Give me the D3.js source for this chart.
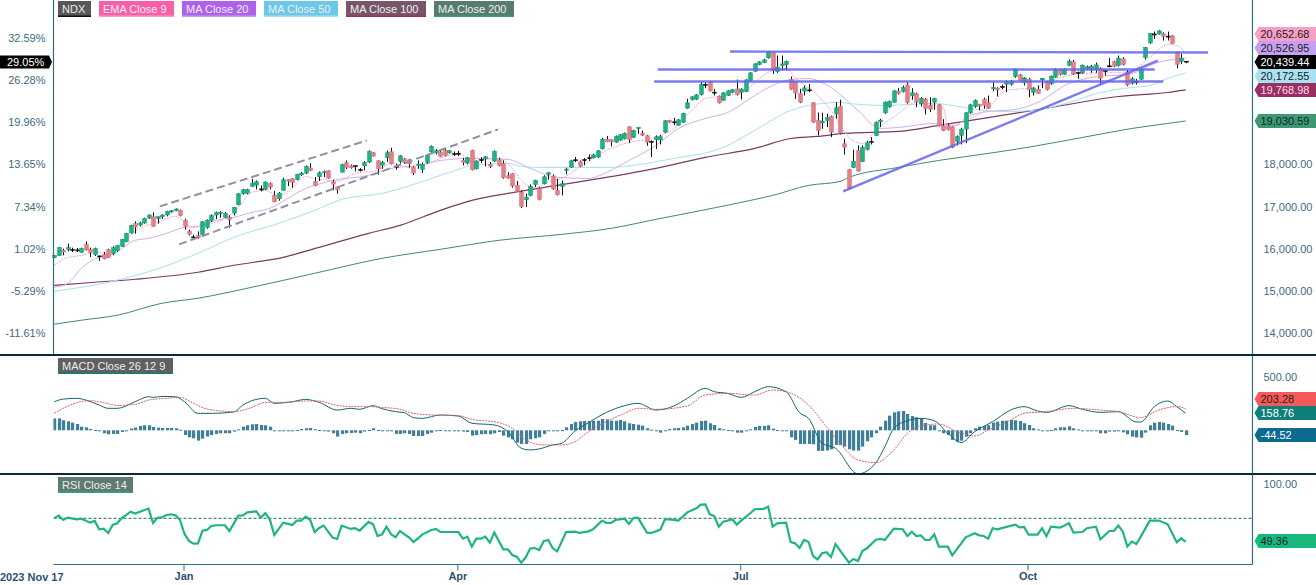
<!DOCTYPE html>
<html lang="en">
<head>
<meta charset="utf-8" />
<title>NDX</title>
<style>
  html, body { margin: 0; padding: 0; background: #fff; }
  svg { display: block; }
  text { font-family: "Liberation Sans", Arial, sans-serif; font-size: 11px; }
  .axis text { fill: #3d6a80; }
  .axis .domain, .axis line { stroke: #2f6f7f; }
  .dates text { font-weight: bold; fill: #2b5274; font-size: 11px; }
</style>
<script src="https://cdn.jsdelivr.net/npm/d3@7"></script>
</head>
<body>
<div id="chart"></div>
<script>
// candles, one entry per trading day
var barOpen = [15790,15835,15962,15978,15975,15972,15915,16104,15986,15860,
  15830,15860,15978,15883,15954,16057,16167,16373,16594,16562,
  16610,16728,16760,16712,16760,16800,16870,16902,16902,16673,
  16412,16280,16310,16333,16507,16673,16800,16839,16744,16736,
  16847,17044,17305,17320,17479,17510,17415,17408,17550,17265,
  17186,17384,17637,17660,17645,17755,17795,17913,17597,17708,
  17803,17850,17582,17463,17818,18040,17969,17965,17875,17969,
  18056,18277,18087,17984,18158,18300,17955,18071,18134,18111,
  17937,17992,17882,18048,18300,18277,18293,18332,18277,18255,
  18265,18095,18032,18332,17897,18115,18134,18000,18079,18111,
  18016,17732,17779,17503,17345,17163,17265,17526,17424,17542,
  17763,17724,17384,17479,17858,17937,18108,18063,18110,18158,
  18158,18174,18371,18592,18585,18529,18577,18609,18893,18640,
  18853,18735,18680,18547,18585,18585,18766,19043,19012,18932,
  19003,19335,19541,19549,19659,19900,19959,19715,19620,19525,
  19643,19715,19793,19715,19730,19991,20212,20370,20418,20528,
  20655,20204,20346,20370,20015,19951,19683,19738,19770,19462,
  19043,18988,19043,19138,19201,19375,18490,17874,17929,18332,
  18071,18356,18545,18688,19012,19225,19367,19478,19730,19730,
  19888,19628,19675,19438,19549,19406,19478,19414,18917,18917,
  18885,18545,18688,18838,19225,19375,19422,19541,19462,19793,
  19801,19850,19904,19904,20086,20125,19936,20023,19714,19778,
  20007,19951,19912,20070,20236,20141,20354,20433,20180,20173,
  20275,20260,20267,20283,20228,20340,20441,20346,20504,20188,
  19928,19975,20023,20536,20884,21095,21097,21097,21045,21050,
  20655,20449,20450];
var barHigh = [15850,16040,16001,16120,16025,16017,16025,16175,16025,16025,
  15832,15922,16002,16057,16088,16230,16373,16570,16650,16642,
  16736,16815,16863,16762,16815,16902,16918,16957,16926,16712,
  16452,16333,16412,16657,16697,16815,16878,16894,16870,16791,
  16989,17320,17423,17423,17660,17621,17503,17597,17574,17368,
  17345,17684,17645,17676,17779,17818,17977,18032,17700,17834,
  17858,17858,17637,17479,18016,18095,18000,17972,17913,18079,
  18332,18292,18095,18079,18332,18395,18016,18221,18158,18134,
  17961,18095,18048,18237,18450,18364,18332,18372,18340,18308,
  18320,18158,18174,18348,18095,18174,18200,18056,18332,18158,
  18095,17818,17795,17605,17384,17305,17526,17637,17463,17740,
  17818,17763,17660,17621,17921,18111,18174,18095,18150,18237,
  18253,18340,18632,18672,18600,18688,18719,18759,18901,18822,
  18880,18806,18703,18569,18688,18703,19051,19059,19106,19075,
  19225,19556,19620,19667,19951,19951,19975,19793,19635,19715,
  19762,19785,20015,19809,20023,20188,20402,20449,20505,20686,
  20670,20583,20583,20465,20086,19975,19793,19872,19912,19478,
  19233,19225,19201,19162,19478,19533,18609,17897,18348,18450,
  18450,18553,18648,19020,19083,19493,19517,19762,19809,19872,
  19944,19809,19707,19596,19580,19596,19580,19438,19075,18964,
  18901,18688,18869,19240,19438,19541,19438,19580,19635,19951,
  19833,19896,19991,20007,20275,20149,20070,20054,19833,19872,
  20054,19975,20109,20283,20267,20283,20489,20481,20204,20370,
  20346,20362,20418,20307,20252,20528,20465,20583,20544,20244,
  20070,20030,20283,20789,21121,21152,21184,21136,21152,21065,
  20678,20623,20452];
var barLow = [15775,15830,15843,15938,15922,15922,15899,15962,15804,15828,
  15710,15749,15780,15843,15922,16041,16152,16357,16357,16530,
  16594,16705,16523,16594,16712,16768,16855,16886,16768,16452,
  16318,16238,16238,16318,16476,16634,16705,16736,16728,16500,
  16791,17028,17281,17289,17463,17408,17360,17392,17408,17100,
  17139,17384,17487,17447,17621,17724,17771,17842,17479,17605,
  17700,17660,17384,17305,17803,17890,17897,17834,17834,17858,
  18032,18190,17755,17897,18056,18000,17874,18016,18016,17921,
  17747,17897,17795,18016,18277,18237,18174,18190,18253,18198,
  18198,17977,18000,17858,17882,18032,17953,17913,18056,17953,
  17660,17660,17447,17345,16965,16989,17242,17463,17147,17526,
  17637,17400,17265,17265,17763,17921,18056,17937,17977,18079,
  18142,18158,18355,18529,18427,18514,18561,18593,18506,18624,
  18727,18672,18443,18174,18364,18474,18743,18980,18932,18917,
  18988,19320,19517,19533,19635,19809,19730,19635,19446,19509,
  19628,19691,19635,19541,19715,19975,20196,20354,20402,20512,
  20149,20173,20228,20228,19770,19556,19454,19635,19715,18988,
  18688,18845,18885,18648,19083,18711,18237,17408,17913,17834,
  18055,18332,18474,18672,18885,19201,19343,19462,19659,19707,
  19438,19533,19359,19375,19185,19240,19296,18901,18790,18806,
  18387,18450,18474,18506,19201,19343,19280,19319,19319,19738,
  19612,19778,19714,19872,20054,19967,19872,19596,19635,19675,
  19809,19754,19888,20054,20109,20125,20331,20125,20030,20149,
  20244,20173,20173,19896,20109,20307,20307,20323,20346,19857,
  19896,19896,20007,20489,20860,20978,21081,20939,20939,20860,
  20283,20386,20402];
var barClose = [15838,16025,15922,16025,15980,15970,16002,15970,15907,16002,
  15828,15765,15796,16025,16072,16215,16357,16555,16515,16610,
  16720,16800,16530,16760,16800,16886,16902,16942,16784,16530,
  16349,16276,16262,16641,16673,16791,16855,16863,16839,16689,
  16981,17305,17400,17400,17550,17590,17420,17582,17463,17115,
  17320,17637,17605,17566,17763,17795,17953,17858,17503,17803,
  17826,17676,17534,17400,18000,17929,17921,17970,17874,18048,
  18308,18198,17897,18048,18277,18016,17952,18206,18048,18016,
  17795,18008,18000,18221,18427,18332,18190,18214,18324,18253,
  18262,18048,18158,17874,18079,18105,18182,17953,18308,17977,
  17684,17676,17487,17360,17005,17218,17479,17621,17171,17708,
  17803,17416,17281,17542,17890,18087,18111,17961,18115,18160,
  18229,18324,18592,18537,18545,18664,18703,18735,18585,18806,
  18877,18695,18530,18545,18656,18656,19035,19003,19010,19059,
  19209,19462,19604,19651,19904,19896,19746,19712,19462,19699,
  19746,19770,19659,19785,20007,20173,20386,20433,20481,20670,
  20228,20307,20386,20441,19786,19691,19478,19817,19768,19003,
  18806,19027,19114,18766,19343,18743,18411,17439,18071,17842,
  18403,18514,18547,18996,19051,19478,19493,19746,19683,19825,
  19470,19699,19485,19564,19327,19312,19564,18917,18806,18830,
  18411,18664,18838,19225,19414,19517,19383,19406,19335,19825,
  19770,19849,19959,19967,20260,19991,20054,19770,19801,19691,
  20039,19778,20094,20260,20141,20260,20449,20149,20181,20354,
  20315,20331,20362,20046,20227,20338,20331,20520,20370,19888,
  20030,19973,20252,20773,21105,21097,21168,21042,21042,20876,
  20378,20520,20439.44];

// moving averages, read at the bars where the line bends
var ema9Bars = [0,2,6,10,12,15,19,23,27,28,31,33,38,41,44,47,50,53,56,58,61,63,67,72,75,80,86,90,93,99,102,104,107,111,113,117,123,128,133,138,142,145,150,154,156,160,163,165,168,169,171,173,177,180,183,188,192,198,199,203,208,212,218,222,229,237,240,244,248,250,252];
var ema9Values = [15607,15749,15844,15915,15891,16128,16483,16626,16768,16720,16507,16555,16720,16981,17337,17384,17265,17431,17716,17668,17621,17597,17787,17858,18024,17905,18142,18261,18095,18142,17905,17621,17455,17621,17668,17929,18332,18522,18616,18853,19280,19564,19635,19754,19944,20228,20275,20062,19825,19754,19517,19280,18640,18498,18806,19209,19470,19351,18877,19043,19327,19754,19825,19991,20157,20181,20228,20536,20844,20820,20652.68];
var ma20Bars = [0,3,6,10,13,18,21,25,29,32,36,40,44,48,52,56,58,62,70,75,81,86,93,101,106,112,119,123,128,134,139,145,150,156,160,164,168,171,173,179,184,188,196,201,203,208,214,219,226,231,240,245,252];
var ma20Values = [15085,15180,15535,15796,15867,16199,16246,16365,16507,16531,16673,16744,16863,16957,17194,17431,17502,17621,17740,17905,17976,18095,18142,18119,17905,17692,17668,17811,18095,18450,18853,19090,19233,19635,19872,20015,20038,19944,19825,19280,18853,18877,18972,18925,19114,19256,19304,19470,19920,20062,20157,20394,20526.95];
var ma50Bars = [0,12,24,32,40,50,58,64,73,86,90,93,101,104,108,123,138,149,156,164,168,175,177,185,196,204,211,218,226,233,240,244,248,252];
var ma50Values = [14990,15204,15559,15891,16270,16602,16910,17171,17313,17740,17882,17976,18024,17953,17929,17929,18142,18403,18806,19280,19399,19470,19446,19399,19446,19327,19256,19280,19470,19707,19825,19872,20038,20172.55];
var ma100Bars = [0,9,18,32,40,51,59,70,77,86,93,101,112,123,134,145,156,164,170,176,188,197,211,222,237,248,252];
var ma100Values = [15132,15204,15275,15441,15607,15796,16033,16365,16555,16910,17147,17313,17502,17692,17905,18166,18379,18616,18664,18735,18782,18925,19162,19351,19612,19707,19768.98];
var ma200Bars = [0,6,14,24,32,44,58,73,86,99,113,124,134,142,153,160,168,175,177,188,197,208,218,229,240,248,252];
var ma200Values = [14208,14303,14421,14706,14825,15085,15417,15772,15986,16199,16341,16483,16697,16863,17100,17265,17502,17597,17692,17929,18095,18261,18427,18640,18853,18972,19030.59];

// hand drawn lines: start bar, end bar, start price, end price
var solidLineStartBars = [150.5,134.4,133.6,175.7];
var solidLineEndBars = [257,245.1,247,245.8];
var solidLineStartPrices = [20678,20252,19967,17360];
var solidLineEndPrices = [20655,20252,19967,20465];
var dashedLineStartBars = [23.5,27.8];
var dashedLineEndBars = [69.6,98.8];
var dashedLineStartPrices = [17005,16104];
var dashedLineEndPrices = [18569,18830];

// MACD
var macdHist = [112,112,94,84,72,59,34,28,12,3,
  -6,-28,-37,-34,-34,-16,-6,16,25,41,
  47,47,31,25,22,22,22,19,6,-44,
  -66,-75,-97,-78,-59,-44,-34,-28,-28,-28,
  -12,9,34,47,56,59,50,47,34,-6,
  -9,-6,-3,0,3,12,19,22,9,3,
  0,-12,-28,-59,-34,-28,-25,-22,-28,-12,
  3,19,3,-9,-3,-6,-34,-34,-28,-34,
  -53,-53,-53,-34,-22,-6,3,-6,-6,-9,
  -6,-12,-16,-50,-44,-37,-34,-37,-28,-16,
  -50,-66,-84,-115,-128,-128,-84,-75,-66,-34,
  0,0,-6,3,28,59,78,84,87,87,
  90,90,106,103,90,90,97,84,66,59,
  53,44,19,6,0,-22,0,12,19,22,
  28,44,59,72,87,90,66,50,19,9,
  3,0,-22,-22,-6,9,31,41,41,47,
  16,3,-6,-6,-66,-90,-128,-128,-128,-131,
  -193,-193,-190,-178,-137,-137,-153,-178,-190,-190,
  -153,-103,-66,-28,34,90,137,168,178,181,
  153,134,122,112,69,47,47,0,-28,-44,
  -90,-106,-97,-59,-28,19,34,41,47,72,
  81,90,90,97,94,87,66,50,19,9,
  -6,-6,3,19,28,28,37,19,9,0,
  0,-6,-6,-28,-28,-12,-12,0,-19,-37,
  -59,-66,-69,-22,47,72,78,72,59,44,
  3,-16,-44.52];
var macdBars = [0,2,5,7,10,12,14,18,21,22,24,27,29,32,35,40,42,44,47,49,53,56,59,63,66,68,71,73,76,78,80,82,86,90,93,98,101,104,106,108,111,113,116,119,123,127,130,134,138,141,145,147,150,153,156,159,163,166,168,171,174,179,183,185,187,190,193,196,199,202,205,209,213,216,219,221,226,229,233,237,241,242,245,248,250,252];
var macdValues = [268,293,300,284,237,206,206,268,315,309,318,315,268,159,159,172,237,278,300,253,268,290,262,190,206,197,231,203,175,165,119,112,144,134,66,50,-12,-168,-184,-175,-137,-122,-6,72,168,231,253,190,228,300,393,362,346,309,362,409,362,165,112,-122,-168,-409,-303,-153,19,90,112,90,-28,-115,-12,81,190,222,181,168,231,197,168,175,78,78,222,275,222,158.76];
var signalBars = [0,2,5,8,11,14,18,21,25,28,31,34,40,44,47,51,56,59,62,66,70,73,77,80,86,90,93,99,102,105,109,113,116,119,123,127,130,134,141,145,150,156,160,163,168,172,175,179,183,187,190,193,197,201,205,208,213,216,221,227,233,237,242,246,250,252];
var signalValues = [159,206,259,278,259,234,243,284,300,309,253,200,175,215,262,262,275,275,243,222,222,215,197,159,140,137,103,72,19,-90,-137,-137,-106,-12,81,159,206,197,228,331,346,331,378,362,237,34,-122,-278,-303,-184,-28,41,59,-12,-53,3,97,159,175,206,190,175,119,190,222,203.28];

// RSI
var rsiBars = [0,1,2,3,5,6,8,9,10,11,12,13,14,15,17,18,21,22,23,24,25,26,27,28,29,30,31,32,33,34,35,36,38,39,40,41,42,43,45,46,47,48,49,51,53,54,55,56,57,58,59,60,62,63,64,65,66,67,68,70,71,72,73,74,75,76,77,78,79,80,81,82,84,85,86,88,90,91,92,93,94,95,96,97,98,100,101,102,103,104,105,106,107,108,109,110,111,112,114,116,117,119,120,122,123,124,125,127,128,129,130,132,133,135,136,137,139,141,143,144,145,146,147,148,149,151,152,153,155,156,158,159,160,161,163,164,165,166,167,168,169,170,171,172,173,174,177,178,179,180,181,183,184,185,187,189,190,191,192,193,194,195,196,197,199,200,203,205,206,207,208,209,210,214,215,216,217,219,220,221,222,224,226,227,229,230,232,233,235,236,237,238,239,240,241,242,244,246,248,250,251,252];
var rsiValues = [70,72.3,68.5,70.6,69.1,69.7,66.2,67.7,60.4,61,57.2,64.2,65.6,70,75.8,74.1,78.5,65.9,70.6,70.9,72.9,73.5,72.6,68.5,56.3,50.2,47.8,48.1,59.2,59.8,63.3,63.9,63.9,58.9,65.6,72.3,72.6,75.2,76.1,70.6,74.4,69.1,55.4,66.2,64.2,68,68,71.5,68.5,58,61.5,63.6,53.1,51.9,63.6,62.1,60.7,61.3,59.2,66.8,64.8,54.5,56,62.7,56,53.4,58.9,56,53.4,49.3,52.5,56,59.8,60.7,58,58,58,52.2,54,45.2,52.2,52.2,54,48.7,57.5,42.9,42.9,37.9,36.5,31.2,35.9,43.5,44,42.3,49.9,51,44,41.1,58,58.3,57.2,58.6,60.4,68,65.9,65.9,68.5,69.7,65,70.3,70.6,57.5,57.2,60.1,69.1,69.1,68,75.2,78.7,82,82.2,73.5,72,62.7,67.1,69.1,64.5,68,74.4,77.9,78.2,80.2,62.7,65.6,66.2,49.3,48.1,44,51,49.3,37,34.1,39.4,40.3,36.2,47.5,31.2,34.4,32.7,41.4,43.8,51.3,51.9,51,61,60.4,54.5,58.3,54.5,55.1,51,51,56,45.2,45.2,37.6,53.4,56.9,55.1,54.5,52.2,61.3,60.4,64.5,62.1,62.4,55.7,55.7,61.3,54.5,62.7,61.8,65.6,57.5,58,61.3,62.7,51.6,58.9,58.9,63.6,58.3,45.2,49.6,47.5,54,68,68,64.8,49,52.5,49.36];

// axes
var priceTicks = [14000,15000,16000,17000,18000];
var percentTicks = [21000,20000,19000,18000,17000,16000,15000,14000];
var percentLabels = ["32.59%","26.28%","19.96%","13.65%","7.34%","1.02%","-5.29%","-11.61%"];
var macdTicks = [500];
var rsiTicks = [100];
var rsiLevel = [70];
var dateBars = [29,90,153,217];
var dateLabels = ["Jan","Apr","Jul","Oct"];

var W = 1316, H = 585;
var plotL = 53.5, plotR = 1252.5;
var mainBottom = 355, macdBottom = 474, rsiBottom = 564.5;

var x = d3.scaleLinear().domain([0, 252]).range([54.3, 1185.7]);
var y = d3.scaleLinear().domain([14000, 21000]).range([333, 38]);
var yMacd = d3.scaleLinear().domain([0, 500]).range([430.3, 377]);
var yRsi = d3.scaleLinear().domain([70, 100]).range([518.3, 484]);

var svg = d3.select("#chart").append("svg").attr("width", W).attr("height", H);

var defs = svg.append("defs");
defs.append("clipPath").attr("id", "clipMacd").append("rect")
  .attr("x", plotL).attr("y", mainBottom).attr("width", plotR - plotL).attr("height", macdBottom - mainBottom);
defs.append("clipPath").attr("id", "clipRsi").append("rect")
  .attr("x", plotL).attr("y", macdBottom).attr("width", plotR - plotL).attr("height", rsiBottom - macdBottom);

function pairs(bars, values) {
  return bars.map(function(b, i) { return [b, values[i]]; });
}

function drawLine(g, bars, values, yScale, colour, width, curve) {
  var line = d3.line()
    .x(function(d) { return x(d[0]); })
    .y(function(d) { return yScale(d[1]); })
    .curve(curve || d3.curveLinear);
  return g.append("path")
    .datum(pairs(bars, values))
    .attr("fill", "none")
    .attr("stroke", colour)
    .attr("stroke-width", width)
    .attr("d", line);
}

// moving averages go under the candles
var mas = svg.append("g");
drawLine(mas, ma200Bars, ma200Values, y, "#3f8a6d", 1, d3.curveMonotoneX);
drawLine(mas, ma100Bars, ma100Values, y, "#7a3a62", 1.2, d3.curveMonotoneX);
drawLine(mas, ma50Bars, ma50Values, y, "#a9dfe9", 1, d3.curveMonotoneX);
drawLine(mas, ma20Bars, ma20Values, y, "#d3aee4", 1, d3.curveMonotoneX);
drawLine(mas, ema9Bars, ema9Values, y, "#f0a6d4", 1, d3.curveMonotoneX).attr("stroke-dasharray", "2,1");

var candles = svg.append("g").selectAll("g").data(barOpen).enter().append("g");
candles.append("line")
  .attr("x1", function(d, i) { return Math.round(x(i)) + 0.5; })
  .attr("x2", function(d, i) { return Math.round(x(i)) + 0.5; })
  .attr("y1", function(d, i) { return y(barHigh[i]); })
  .attr("y2", function(d, i) { return y(barLow[i]); })
  .attr("stroke", "#111")
  .attr("stroke-width", 1);
candles.append("rect")
  .attr("x", function(d, i) { return Math.round(x(i)) - 1.3; })
  .attr("width", 3.6)
  .attr("y", function(d, i) { return Math.min(y(barOpen[i]), y(barClose[i])); })
  .attr("height", function(d, i) { return Math.max(1, Math.abs(y(barOpen[i]) - y(barClose[i]))); })
  .attr("fill", function(d, i) {
    var diff = barClose[i] - barOpen[i];
    if (Math.abs(diff) <= 12) return "#111";
    return diff > 0 ? "#1db385" : "#e57f88";
  })
  .attr("stroke", function(d, i) {
    var diff = barClose[i] - barOpen[i];
    if (Math.abs(diff) <= 12) return "#111";
    return diff > 0 ? "#17936e" : "#d0707a";
  })
  .attr("stroke-width", 0.6);

// drawn lines sit on top of the candles
var drawn = svg.append("g");
solidLineStartBars.forEach(function(b, i) {
  drawn.append("line")
    .attr("x1", x(b)).attr("x2", x(solidLineEndBars[i]))
    .attr("y1", y(solidLineStartPrices[i])).attr("y2", y(solidLineEndPrices[i]))
    .attr("stroke", "#6464ec").attr("stroke-width", 2.4).attr("stroke-opacity", 0.85);
});
dashedLineStartBars.forEach(function(b, i) {
  drawn.append("line")
    .attr("x1", x(b)).attr("x2", x(dashedLineEndBars[i]))
    .attr("y1", y(dashedLineStartPrices[i])).attr("y2", y(dashedLineEndPrices[i]))
    .attr("stroke", "#9090a4").attr("stroke-width", 2).attr("stroke-dasharray", "8,4");
});

// MACD panel
var macdG = svg.append("g").attr("clip-path", "url(#clipMacd)");
macdG.selectAll("rect").data(macdHist).enter().append("rect")
  .attr("x", function(d, i) { return Math.round(x(i)) - 1; })
  .attr("width", 3.2)
  .attr("y", function(d) { return Math.min(yMacd(d), yMacd(0)); })
  .attr("height", function(d) { return Math.max(1, Math.abs(yMacd(d) - yMacd(0))); })
  .attr("fill", "#3f7f9a");
drawLine(macdG, macdBars, macdValues, yMacd, "#0f6670", 1, d3.curveMonotoneX);
drawLine(macdG, signalBars, signalValues, yMacd, "#d4606e", 1, d3.curveMonotoneX).attr("stroke-dasharray", "2,1");

// RSI panel
var rsiG = svg.append("g").attr("clip-path", "url(#clipRsi)");
rsiLevel.forEach(function(v) {
  rsiG.append("line")
    .attr("x1", plotL).attr("x2", plotR).attr("y1", yRsi(v)).attr("y2", yRsi(v))
    .attr("stroke", "#176a70").attr("stroke-dasharray", "3,2");
});
drawLine(rsiG, rsiBars, rsiValues, yRsi, "#1fb482", 2.2);

// frame
var frame = svg.append("g").attr("stroke", "#2f6f7f").attr("stroke-width", 1.2);
frame.append("line").attr("x1", plotL).attr("x2", plotL).attr("y1", 0).attr("y2", mainBottom);
frame.append("line").attr("x1", plotR).attr("x2", plotR).attr("y1", 0).attr("y2", rsiBottom);
frame.append("line").attr("x1", plotL).attr("x2", plotR).attr("y1", rsiBottom).attr("y2", rsiBottom);
[mainBottom, macdBottom].forEach(function(v) {
  svg.append("line").attr("x1", 0).attr("x2", W).attr("y1", v).attr("y2", v)
    .attr("stroke", "#0b2a38").attr("stroke-width", 2);
});

// axes
function cleanAxis(g) {
  g.select(".domain").remove();
  g.selectAll(".tick line").remove();
}
svg.append("g").attr("class", "axis")
  .attr("transform", "translate(" + (plotL - 8) + ",0)")
  .call(d3.axisLeft(y).tickValues(percentTicks).tickSize(0).tickPadding(0)
    .tickFormat(function(d, i) { return percentLabels[i]; }))
  .call(cleanAxis);
svg.append("g").attr("class", "axis")
  .attr("transform", "translate(" + (plotR + 11) + ",0)")
  .call(d3.axisRight(y).tickValues(priceTicks).tickSize(0).tickPadding(0).tickFormat(d3.format(",.2f")))
  .call(cleanAxis);
svg.append("g").attr("class", "axis")
  .attr("transform", "translate(" + (plotR + 11) + ",0)")
  .call(d3.axisRight(yMacd).tickValues(macdTicks).tickSize(0).tickPadding(0).tickFormat(d3.format(".2f")))
  .call(cleanAxis);
svg.append("g").attr("class", "axis")
  .attr("transform", "translate(" + (plotR + 11) + ",0)")
  .call(d3.axisRight(yRsi).tickValues(rsiTicks).tickSize(0).tickPadding(0).tickFormat(d3.format(".2f")))
  .call(cleanAxis);

var dates = svg.append("g").attr("class", "dates")
  .attr("transform", "translate(-1," + rsiBottom + ")")
  .call(d3.axisBottom(x).tickValues(dateBars).tickSize(6).tickPadding(2)
    .tickFormat(function(d, i) { return dateLabels[i]; }));
dates.select(".domain").remove();
dates.selectAll(".tick line").attr("stroke", "#2f6f7f");
svg.append("text").attr("x", 0).attr("y", 581)
  .attr("font-weight", "bold").attr("fill", "#2b5274").text("2023 Nov 17");

// legend chips
function chip(left, top, width, text, bg, stripe) {
  svg.append("rect").attr("x", left).attr("y", top).attr("width", width).attr("height", 16).attr("fill", bg);
  svg.append("rect").attr("x", left).attr("y", top + 14.5).attr("width", width).attr("height", 1.5).attr("fill", stripe);
  svg.append("text").attr("x", left + 4).attr("y", top + 12).attr("fill", "#eee").text(text);
}
chip(58, 1, 33, "NDX", "#585858", "#111");
chip(99, 1, 75, "EMA Close 9", "#f75fa8", "#f79ec4");
chip(182, 1, 74, "MA Close 20", "#ae62ec", "#c49ef0");
chip(264, 1, 74, "MA Close 50", "#6cc8e8", "#a8e0f0");
chip(346, 1, 80, "MA Close 100", "#77566a", "#9a3060");
chip(434, 1, 80, "MA Close 200", "#567c6e", "#3a9a70");
chip(58, 358, 115, "MACD Close 26 12 9", "#606060", "#0f7f78");
chip(58, 477, 75, "RSI Close 14", "#5f7a70", "#2fa57e");

// value tags on the right, stacked so they stay readable
function rightTag(cy, text, bg, fg) {
  var left = plotR + 2, h = 7;
  svg.append("path")
    .attr("d", d3.line()([[left, cy], [left + 4, cy - h], [W, cy - h], [W, cy + h], [left + 4, cy + h]]) + "Z")
    .attr("fill", bg);
  svg.append("text").attr("x", left + 6).attr("y", cy + 4).attr("fill", fg).text(text);
}
var fmt = d3.formatLocale({ decimal: ".", thousands: ",", grouping: [3], currency: ["", ""], minus: "-" }).format(",.2f");
rightTag(34, fmt(ema9Values[ema9Values.length - 1]), "#f7a0c6", "#222");
rightTag(48, fmt(ma20Values[ma20Values.length - 1]), "#c6a0f0", "#222");
rightTag(62, fmt(barClose[barClose.length - 1]), "#000", "#fff");
rightTag(76, fmt(ma50Values[ma50Values.length - 1]), "#a8e2f2", "#222");
rightTag(90, fmt(ma100Values[ma100Values.length - 1]), "#9a3060", "#fde");
rightTag(121, fmt(ma200Values[ma200Values.length - 1]), "#3c9a72", "#123");
rightTag(399, fmt(signalValues[signalValues.length - 1]), "#f55a5a", "#222");
rightTag(413, fmt(macdValues[macdValues.length - 1]), "#0f7f78", "#fff");
rightTag(435, fmt(macdHist[macdHist.length - 1]), "#0a6a90", "#fff");
rightTag(541, fmt(rsiValues[rsiValues.length - 1]), "#17b87c", "#123");

// current price as a percentage on the left
svg.append("path")
  .attr("d", d3.line()([[0, 55.5], [49, 55.5], [52, 62], [49, 68.5], [0, 68.5]]) + "Z")
  .attr("fill", "#000");
svg.append("text").attr("x", 7).attr("y", 66).attr("fill", "#fff").text("29.05%");
</script>
</body>
</html>
